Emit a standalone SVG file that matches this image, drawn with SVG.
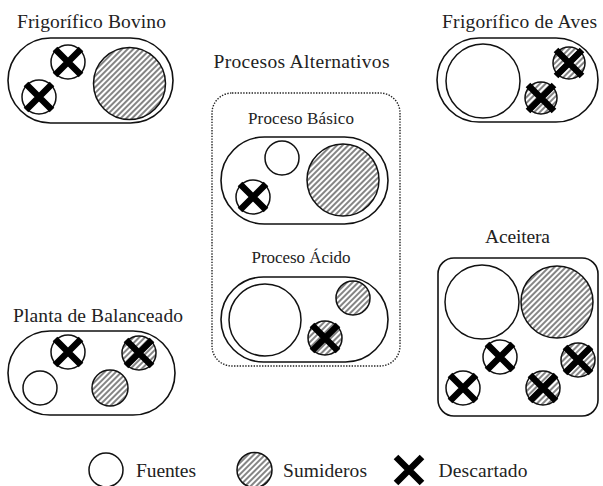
<svg xmlns="http://www.w3.org/2000/svg" width="603" height="486" viewBox="0 0 603 486" font-family="'Liberation Serif', 'Times New Roman', Tinos, 'DejaVu Serif', serif">
<style>
text{font-family:'Liberation Serif','Times New Roman',Tinos,'DejaVu Serif',serif;font-size:19.5px;fill:#222;text-anchor:middle}
text.sub{font-size:17px}
.box{fill:none;stroke:#111;stroke-width:1.6}
.dot{fill:none;stroke:#222;stroke-width:1.4;stroke-dasharray:1.4 1.4}
.src{fill:#fff;stroke:#111;stroke-width:1.5}
.snk{fill:url(#hatch);stroke:#111;stroke-width:1.5}
.x{stroke:#000;stroke-width:6.5;stroke-linecap:butt;fill:none}
</style>
<defs>
<pattern id="hatch" width="4" height="4" patternUnits="userSpaceOnUse" patternTransform="rotate(45)">
<rect width="4" height="4" fill="#fff"/>
<line x1="1" y1="0" x2="1" y2="4" stroke="#666" stroke-width="1.6"/>
</pattern>
<path id="xm" d="M-13,-13L13,13M13,-13L-13,13" class="x"/>
</defs>

<g id="frigorifico-bovino">
<text x="91.5" y="28" textLength="149">Frigorífico Bovino</text>
<rect class="box" x="8" y="38" width="165" height="85" rx="42.5"/>
<circle class="src" cx="68" cy="62" r="17"/><use href="#xm" x="68" y="62"/>
<circle class="src" cx="39" cy="97" r="17"/><use href="#xm" x="39" y="97"/>
<circle class="snk" cx="129.5" cy="83.5" r="36"/>
</g>

<g id="frigorifico-aves">
<text x="519.5" y="28" textLength="155">Frigorífico de Aves</text>
<rect class="box" x="437" y="38" width="161" height="84" rx="42"/>
<circle class="src" cx="483" cy="81" r="37"/>
<circle class="snk" cx="569" cy="63" r="16"/><use href="#xm" x="569" y="63"/>
<circle class="snk" cx="541" cy="98" r="16"/><use href="#xm" x="541" y="98"/>
</g>

<g id="procesos-alternativos">
<text x="301.5" y="68" textLength="176">Procesos Alternativos</text>
<rect class="dot" x="212" y="93" width="188" height="273" rx="20"/>
</g>

<g id="proceso-basico">
<text class="sub" x="301" y="124" textLength="106">Proceso Básico</text>
<rect class="box" x="221" y="137" width="167" height="87" rx="43.5"/>
<circle class="src" cx="282" cy="158" r="17"/>
<circle class="src" cx="253" cy="197" r="17"/><use href="#xm" x="253" y="197"/>
<circle class="snk" cx="343" cy="180" r="36"/>
</g>

<g id="proceso-acido">
<text class="sub" x="301" y="263" textLength="99">Proceso Ácido</text>
<rect class="box" x="221" y="277" width="167" height="85" rx="42.5"/>
<circle class="src" cx="265" cy="320" r="36"/>
<circle class="snk" cx="353" cy="298" r="17"/>
<circle class="snk" cx="325" cy="338" r="17"/><use href="#xm" x="325" y="338"/>
</g>

<g id="planta-balanceado">
<text x="98" y="322" textLength="170">Planta de Balanceado</text>
<rect class="box" x="8" y="331" width="167" height="84" rx="42"/>
<circle class="src" cx="68" cy="352" r="17"/><use href="#xm" x="68" y="352"/>
<circle class="snk" cx="139" cy="353" r="17"/><use href="#xm" x="139" y="353"/>
<circle class="src" cx="40" cy="388" r="17"/>
<circle class="snk" cx="110" cy="388" r="18"/>
</g>

<g id="aceitera">
<text x="517.5" y="243" textLength="65">Aceitera</text>
<rect class="box" x="438" y="258" width="160" height="158" rx="16"/>
<circle class="src" cx="482" cy="302" r="37"/>
<circle class="snk" cx="557" cy="302" r="36"/>
<circle class="src" cx="500" cy="357" r="17"/><use href="#xm" x="500" y="357"/>
<circle class="src" cx="463" cy="388" r="17"/><use href="#xm" x="463" y="388"/>
<circle class="snk" cx="543" cy="388" r="17"/><use href="#xm" x="543" y="388"/>
<circle class="snk" cx="578" cy="360" r="17"/><use href="#xm" x="578" y="360"/>
</g>

<g id="legend">
<circle class="src" cx="106" cy="470" r="17"/>
<text x="166" y="477" textLength="60">Fuentes</text>
<circle class="snk" cx="254.5" cy="470" r="17.5"/>
<text x="325" y="477" textLength="84">Sumideros</text>
<use href="#xm" x="409" y="470"/>
<text x="483" y="477" textLength="89">Descartado</text>
</g>

<g id="connectors"/>
</svg>
